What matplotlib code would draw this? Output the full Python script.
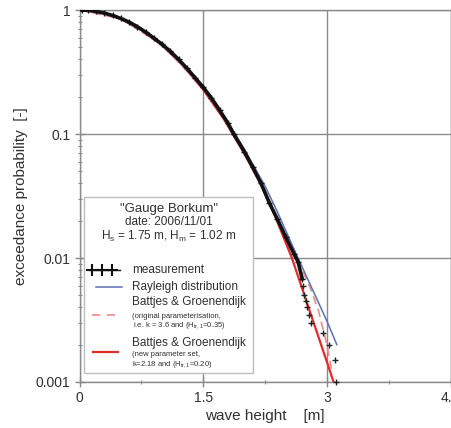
import numpy as np
import matplotlib
matplotlib.use("Agg")
import matplotlib.pyplot as plt
from matplotlib.patches import Rectangle
from matplotlib.ticker import FixedLocator, FixedFormatter, LogLocator, NullFormatter

plt.rcParams['font.family'] = ['Liberation Sans', 'DejaVu Sans']

# measurement (dense part read along the thick black band, then single tail points)
meas_H = [0.03, 0.1, 0.2, 0.3, 0.4, 0.5, 0.6, 0.7, 0.8, 0.9, 1.0, 1.1, 1.2, 1.3, 1.4,
          1.5, 1.6, 1.7, 1.8, 1.87, 2.0, 2.1, 2.2, 2.3, 2.4, 2.5, 2.6, 2.65, 2.70]
meas_P = [1.0, 0.995, 0.975, 0.945, 0.905, 0.855, 0.80, 0.735, 0.665, 0.595, 0.53, 0.465, 0.40,
          0.34, 0.285, 0.238, 0.195, 0.155, 0.122, 0.100, 0.072, 0.054, 0.040, 0.028, 0.0205,
          0.0148, 0.0108, 0.0093, 0.0068]
tail_H = [2.71, 2.72, 2.74, 2.76, 2.78, 2.81, 2.95, 3.02, 3.10, 3.11]
tail_P = [0.006, 0.005, 0.0045, 0.004, 0.0035, 0.003, 0.0025, 0.002, 0.0015, 0.001]

# Rayleigh distribution
ray_H = [0, 0.25, 0.5, 0.75, 1.0, 1.25, 1.5, 1.75, 2.0, 2.25, 2.4, 2.6, 3.0, 3.12]
ray_P = [1.0, 0.96, 0.85, 0.69, 0.525, 0.365, 0.235, 0.14, 0.075, 0.038, 0.0235, 0.0118, 0.0031, 0.0020]

# Battjes & Groenendijk, original parameterisation
bg0_H = [0, 0.5, 1.0, 1.5, 1.75, 2.0, 2.25, 2.5, 2.7, 2.8, 2.9, 3.0, 3.06]
bg0_P = [1.0, 0.85, 0.525, 0.232, 0.135, 0.071, 0.035, 0.0148, 0.0080, 0.0057, 0.0037, 0.0020, 0.0012]

# Battjes & Groenendijk, new parameter set
bg1_H = [0, 0.25, 0.5, 0.75, 1.0, 1.25, 1.5, 1.75, 2.0, 2.25, 2.4, 2.575, 2.75, 3.0, 3.08]
bg1_P = [1.0, 0.96, 0.85, 0.69, 0.52, 0.36, 0.228, 0.132, 0.069, 0.034, 0.0195, 0.0100, 0.0045,
         0.00145, 0.001]

x_ticks = [0, 1.5, 3, 4.5]
x_labels = ['0', '1.5', '3', '4.5']
y_ticks = [0.001, 0.01, 0.1, 1]
y_labels = ['0.001', '0.01', '0.1', '1']

blue = '#5b70b5'
red = '#e32b2b'
pink = '#ef8a8a'
grey = '#8a8a8a'
txt = '#303030'

fig = plt.figure(figsize=(4.52, 4.28), dpi=100)
ax = fig.add_axes([0.176, 0.1075, 0.821, 0.869])

ax.plot(bg1_H, bg1_P, color=red, lw=1.6, zorder=3)
ax.plot(bg0_H, bg0_P, color=pink, lw=1.2, dashes=(5, 3), zorder=3)
ax.plot(ray_H, ray_P, color=blue, lw=1.1, zorder=3)
ax.plot(meas_H, meas_P, color='#111111', lw=2.6, marker='+', ms=4, mew=1, zorder=4)
ax.plot(tail_H, tail_P, ls='none', color='#222222', marker='+', ms=5, mew=1, zorder=4, clip_on=False)

ax.set_yscale('log')
ax.set_xlim(0, 4.5)
ax.set_ylim(0.001, 1)

ax.xaxis.set_major_locator(FixedLocator(x_ticks))
ax.xaxis.set_major_formatter(FixedFormatter(x_labels))
ax.xaxis.set_minor_locator(FixedLocator([0.75, 2.25, 3.75]))
ax.yaxis.set_major_locator(FixedLocator(y_ticks))
ax.yaxis.set_major_formatter(FixedFormatter(y_labels))
ax.yaxis.set_minor_locator(LogLocator(base=10, subs=np.arange(2, 10)))
ax.yaxis.set_minor_formatter(NullFormatter())

ax.tick_params(which='major', direction='inout', length=7, width=1, color=grey,
               labelsize=10, labelcolor=txt, pad=3)
ax.tick_params(which='minor', direction='inout', length=3, width=0.8, color=grey)
ax.grid(which='major', color=grey, lw=1)
for s in ax.spines.values():
    s.set_color(grey)
    s.set_linewidth(1)

ax.set_xlabel('wave height    [m]', fontsize=11, color=txt, labelpad=3)
ax.set_ylabel('exceedance probability  [-]', fontsize=11, color=txt, labelpad=6)

# legend box drawn by hand
T = ax.transAxes
ax.add_patch(Rectangle((0.012, 0.024), 0.455, 0.473, transform=T, facecolor='white',
                       edgecolor='#bdbdbd', lw=1, zorder=6))
ax.text(0.24, 0.465, '"Gauge Borkum"', transform=T, ha='center', va='center',
        fontsize=9.5, color=txt, zorder=7)
ax.text(0.24, 0.430, 'date: 2006/11/01', transform=T, ha='center', va='center',
        fontsize=8.5, color=txt, zorder=7)
ax.text(0.24, 0.390, r'$\mathregular{H_s}$ = 1.75 m, $\mathregular{H_m}$ = 1.02 m', transform=T,
        ha='center', va='center', fontsize=8.5, color=txt, zorder=7)

ax.plot([0.034, 0.061, 0.088], [0.301] * 3, transform=T, ls='none', marker='+', ms=9,
        mew=1.5, color='#111111', zorder=7)
ax.plot([0.025, 0.11], [0.301, 0.301], transform=T, color='#111111', lw=1, zorder=7)
ax.text(0.142, 0.301, 'measurement', transform=T, va='center', fontsize=8.5, color=txt, zorder=7)

ax.plot([0.045, 0.115], [0.255, 0.255], transform=T, color=blue, lw=1.1, zorder=7)
ax.text(0.142, 0.255, 'Rayleigh distribution', transform=T, va='center', fontsize=8.5,
        color=txt, zorder=7)

ax.plot([0.034, 0.095], [0.180, 0.180], transform=T, color=pink, lw=1.2, dashes=(5, 4), zorder=7)
ax.text(0.142, 0.215, 'Battjes & Groenendijk', transform=T, va='center', fontsize=8.5,
        color=txt, zorder=7)
ax.text(0.142, 0.177, '(original parameterisation,', transform=T, va='center', fontsize=5.5,
        color=txt, zorder=7)
ax.text(0.145, 0.152, r'i.e. k = 3.6 and ($\mathregular{H_{tr,1}}$=0.35)', transform=T,
        va='center', fontsize=5.5, color=txt, zorder=7)

ax.plot([0.036, 0.104], [0.081, 0.081], transform=T, color=red, lw=1.6, zorder=7)
ax.text(0.142, 0.105, 'Battjes & Groenendijk', transform=T, va='center', fontsize=8.5,
        color=txt, zorder=7)
ax.text(0.142, 0.074, '(new parameter set,', transform=T, va='center', fontsize=5.5,
        color=txt, zorder=7)
ax.text(0.142, 0.047, r'k=2.18 and ($\mathregular{H_{tr,1}}$=0.20)', transform=T,
        va='center', fontsize=5.5, color=txt, zorder=7)

fig.savefig('out.png', dpi=100)
